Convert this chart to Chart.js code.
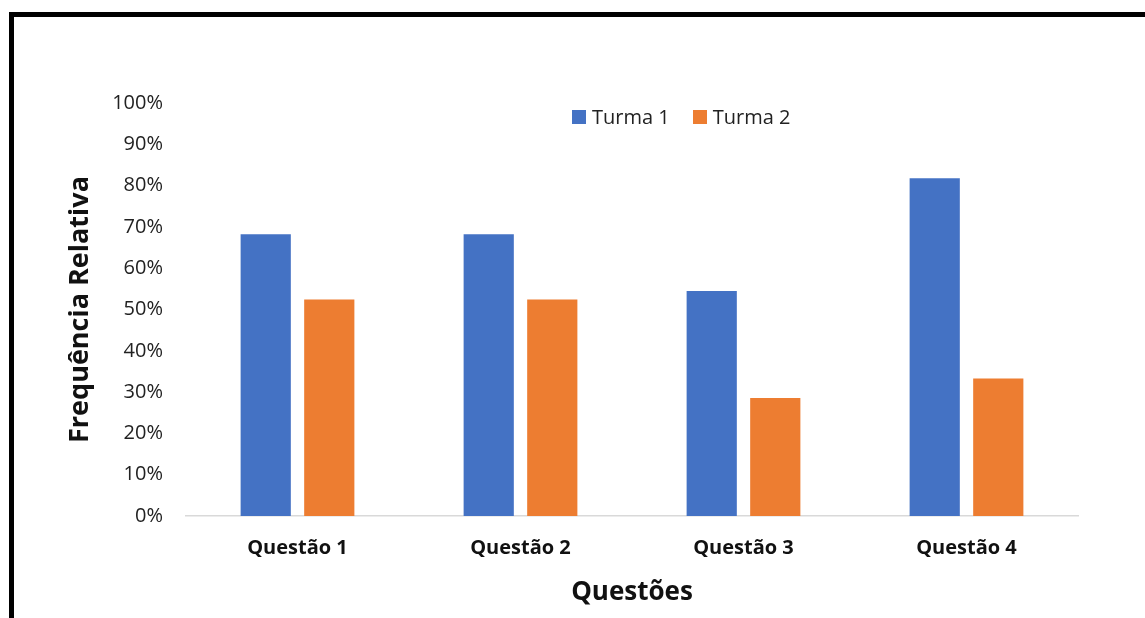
<!DOCTYPE html>
<html lang="pt">
<head>
<meta charset="utf-8">
<title>Frequência Relativa por Questão</title>
<script src="https://cdn.jsdelivr.net/npm/chart.js@4/dist/chart.umd.min.js"></script>
<style>
  html, body { margin: 0; padding: 0; background: #fff; overflow: hidden; }
  #wrap { position: relative; width: 1145px; height: 618px; overflow: hidden; }
  #frame {
    position: absolute; left: 9px; top: 12px; width: 1300px; height: 800px;
    border-top: 5px solid #000; border-left: 5px solid #000; box-sizing: border-box;
  }
  #chart { position: absolute; left: 0; top: 0; }
  #legend {
    position: absolute; left: 572px; top: 103px; display: flex; align-items: center;
    font-family: "Open Sans", sans-serif; font-size: 20px; color: #222;
  }
  .item { display: flex; align-items: center; margin-right: 23px; }
  .box { width: 14px; height: 14px; margin-right: 6px; }
</style>
</head>
<body>
<div id="wrap">
  <div id="frame"></div>
  <canvas id="chart" width="1145" height="618"></canvas>
  <div id="legend"></div>
</div>
<script>
// Categories and series (relative frequency, %)
const questoes = ["Questão 1", "Questão 2", "Questão 3", "Questão 4"];
const turma1 = [68.2, 68.2, 54.5, 81.8];
const turma2 = [52.4, 52.4, 28.6, 33.3];
const seriesNames = ["Turma 1", "Turma 2"];
const seriesColors = ["#4472C4", "#ED7D31"];
const yTicks = [0, 10, 20, 30, 40, 50, 60, 70, 80, 90, 100];

const chart = new Chart(document.getElementById("chart"), {
  type: "bar",
  data: {
    labels: questoes,
    datasets: [turma1, turma2].map((vals, i) => ({
      label: seriesNames[i],
      data: vals,
      backgroundColor: seriesColors[i],
      borderWidth: 0,
      categoryPercentage: 0.57,
      barPercentage: 0.79
    }))
  },
  options: {
    responsive: false,
    animation: false,
    layout: { padding: { top: 103, right: 67, bottom: 0, left: 0 } },
    plugins: {
      legend: { display: false },
      tooltip: { enabled: false }
    },
    scales: {
      x: {
        grid: { display: false, drawTicks: false },
        border: { display: true, color: "#D9D9D9", width: 1.5 },
        ticks: {
          padding: 20,
          color: "#111",
          font: { family: "Open Sans", size: 20, weight: "bold" }
        },
        title: {
          display: true,
          text: "Questões",
          color: "#111",
          padding: { top: 0, bottom: 10 },
          font: { family: "Open Sans", size: 26, weight: "bold" }
        },
        afterFit: s => { s.height = 102; }
      },
      y: {
        min: 0,
        max: 100,
        afterBuildTicks: s => { s.ticks = yTicks.map(v => ({ value: v })); },
        grid: { display: false, drawTicks: false },
        border: { display: false },
        ticks: {
          padding: 23,
          color: "#222",
          font: { family: "Open Sans", size: 20 },
          callback: v => v + "%"
        },
        title: {
          display: true,
          text: "Frequência Relativa",
          color: "#111",
          padding: { top: 64, bottom: 0 },
          font: { family: "Open Sans", size: 27, weight: "bold" }
        },
        afterFit: s => { s.width = 186; }
      }
    }
  }
});

// Legend built from the chart's own datasets
const legend = document.getElementById("legend");
chart.data.datasets.forEach(ds => {
  const item = document.createElement("div");
  item.className = "item";
  const box = document.createElement("span");
  box.className = "box";
  box.style.background = ds.backgroundColor;
  const label = document.createElement("span");
  label.textContent = ds.label;
  item.appendChild(box);
  item.appendChild(label);
  legend.appendChild(item);
});
</script>
</body>
</html>
